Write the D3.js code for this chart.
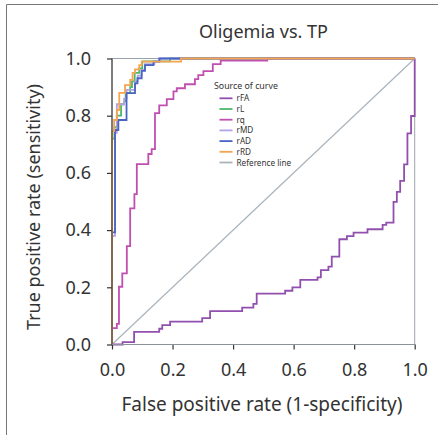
<!DOCTYPE html>
<html><head><meta charset="utf-8">
<script src="https://cdn.jsdelivr.net/npm/d3@7"></script>
<style>body{margin:0;background:#fff}svg{display:block}</style>
</head><body><svg id="c" width="438" height="435"></svg>
<script>
const tickValues=[0,0.2,0.4,0.6,0.8,1.0];
const seriesNames=["rFA","rL","rq","rMD","rAD","rRD"];
const seriesColors=["#9150ad","#4cb86a","#c04fb0","#b3a3e2","#4a64c2","#f5a451"];
const refName="Reference line", refColor="#aab4bc";
const titleText="Oligemia vs. TP";
const xTitle="False positive rate (1-specificity)";
const yTitle="True positive rate (sensitivity)";
const legendTitle="Source of curve";

const rFA_x=[0,0.035,0.073,0.156,0.166,0.192,0.298,0.324,0.430,0.467,0.478,0.572,0.596,0.622,0.679,0.690,0.715,0.726,0.751,0.776,0.798,0.844,0.894,0.906,0.930,0.941,0.952,0.965,0.976,0.988,1.0];
const rFA_y=[0,0.008,0.044,0.055,0.068,0.080,0.092,0.117,0.129,0.142,0.178,0.188,0.200,0.226,0.235,0.260,0.272,0.307,0.368,0.379,0.391,0.403,0.418,0.426,0.499,0.534,0.572,0.630,0.738,0.799,1.0];
const rL_x=[0,0,0.008,0.016,0.030,0.040,0.045,0.060,0.066,0.075,0.090,0.100,0.192,1.0];
const rL_y=[0,0.72,0.76,0.80,0.84,0.85,0.88,0.90,0.92,0.95,0.965,0.99,1.0,1.0];
const rq_x=[0,0,0.016,0.023,0.034,0.049,0.060,0.074,0.082,0.120,0.131,0.142,0.156,0.181,0.203,0.214,0.241,0.274,0.285,0.302,0.333,0.359,0.513,1.0];
const rq_y=[0,0.057,0.072,0.202,0.249,0.344,0.476,0.526,0.631,0.666,0.683,0.809,0.836,0.858,0.885,0.896,0.910,0.928,0.942,0.956,0.980,0.993,1.0,1.0];
const rMD_x=[0,0,0.010,0.016,0.040,0.048,0.076,0.085,0.098,0.109,0.140,0.160,1.0];
const rMD_y=[0,0.38,0.74,0.84,0.86,0.89,0.92,0.94,0.96,0.98,0.99,1.0,1.0];
const rAD_x=[0,0,0.010,0.021,0.048,0.076,0.084,0.098,0.109,0.137,0.156,1.0];
const rAD_y=[0,0.392,0.75,0.785,0.879,0.913,0.931,0.957,0.977,0.989,1.0,1.0];
const rRD_x=[0,0,0.007,0.016,0.024,0.043,0.060,0.068,0.076,0.090,0.098,0.228,1.0];
const rRD_y=[0,0.746,0.785,0.820,0.880,0.907,0.925,0.950,0.962,0.977,0.989,1.0,1.0];
const ref_x=[0,1], ref_y=[0,1];

const seriesX=[rFA_x,rL_x,rq_x,rMD_x,rAD_x,rRD_x];
const seriesY=[rFA_y,rL_y,rq_y,rMD_y,rAD_y,rRD_y];

const FONT="'Noto Sans', 'Open Sans', sans-serif";
const TXT="#333";
const svg=d3.select("#c");
const L=112,R=414.7,T=58.5,B=344.5;
const x=d3.scaleLinear().domain([0,1]).range([L,R]);
const y=d3.scaleLinear().domain([0,1]).range([B,T]);

// outer frame (top & left)
svg.append("line").attr("x1",6.5).attr("x2",438).attr("y1",4.5).attr("y2",4.5).attr("stroke","#777").attr("stroke-width",1);
svg.append("line").attr("x1",6.5).attr("x2",6.5).attr("y1",4.5).attr("y2",435).attr("stroke","#777").attr("stroke-width",1);

// title
svg.append("text").attr("x",263.5).attr("y",38).attr("text-anchor","middle")
  .attr("font-family",FONT).attr("font-size",18).attr("fill",TXT).text(titleText);

// plot frame
svg.append("rect").attr("x",L).attr("y",T).attr("width",R-L).attr("height",B-T)
  .attr("fill","none").attr("stroke","#9aa3ab").attr("stroke-width",1);

// reference line
const line=d3.line().x(d=>x(d[0])).y(d=>y(d[1]));
svg.append("path").datum(d3.zip(ref_x,ref_y)).attr("d",line)
  .attr("fill","none").attr("stroke",refColor).attr("stroke-width",1.2);

// curves
const step=d3.line().x(d=>x(d[0])).y(d=>y(d[1])).curve(d3.curveStepAfter);
seriesNames.forEach((n,i)=>{
  svg.append("path").datum(d3.zip(seriesX[i],seriesY[i])).attr("d",step)
    .attr("fill","none").attr("stroke",seriesColors[i]).attr("stroke-width",1.8);
});

// axes
const xa=svg.append("g").attr("transform",`translate(0,${B})`)
  .call(d3.axisBottom(x).tickValues(tickValues).tickFormat(d3.format(".1f")).tickSize(5).tickPadding(14));
const ya=svg.append("g").attr("transform",`translate(${L},0)`)
  .call(d3.axisLeft(y).tickValues(tickValues).tickFormat(d3.format(".1f")).tickSize(5).tickPadding(16));
[xa,ya].forEach(g=>{
  g.select(".domain").remove();
  g.selectAll(".tick line").attr("stroke","#333").attr("stroke-width",1.2);
  g.selectAll(".tick text").attr("font-family",FONT).attr("font-size",18).attr("fill",TXT);
});
svg.append("line").attr("x1",L).attr("x2",L).attr("y1",T).attr("y2",B).attr("stroke","#444").attr("stroke-width",1.2);
svg.append("line").attr("x1",L).attr("x2",R).attr("y1",B).attr("y2",B).attr("stroke","#8a939b").attr("stroke-width",1.2);

// axis titles
svg.append("text").attr("x",262).attr("y",411).attr("text-anchor","middle")
  .attr("font-family",FONT).attr("font-size",19).attr("fill",TXT).text(xTitle);
svg.append("text").attr("transform",`translate(40,207) rotate(-90)`).attr("text-anchor","middle")
  .attr("font-family",FONT).attr("font-size",18).attr("fill",TXT).text(yTitle);

// legend
svg.append("text").attr("x",214).attr("y",89).attr("font-family",FONT).attr("font-size",8.8).attr("fill",TXT).text(legendTitle);
const legNames=seriesNames.concat([refName]);
const legColors=seriesColors.concat([refColor]);
legNames.forEach((n,i)=>{
  const yy=98.3+i*10.7;
  svg.append("line").attr("x1",219.5).attr("x2",232.5).attr("y1",yy).attr("y2",yy)
    .attr("stroke",legColors[i]).attr("stroke-width",1.8);
  svg.append("text").attr("x",236.5).attr("y",yy+3).attr("font-family",FONT).attr("font-size",8.2)
    .attr("fill",TXT).text(n);
});
</script></body></html>
